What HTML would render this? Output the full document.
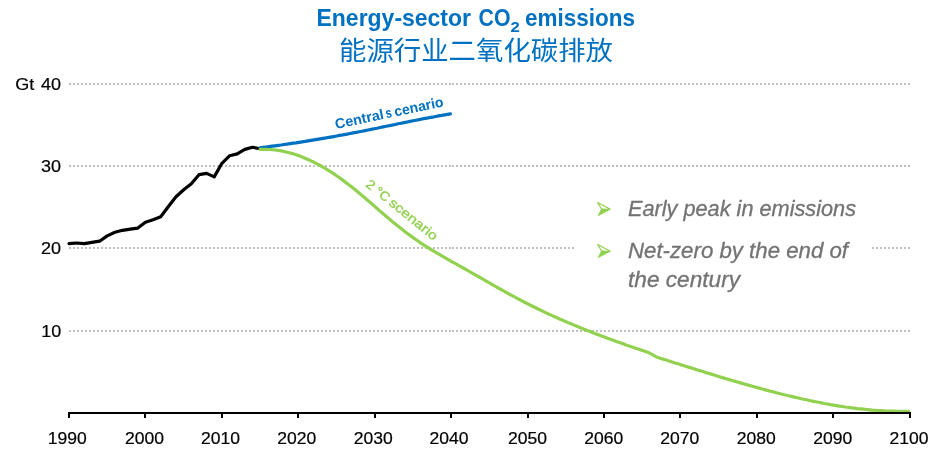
<!DOCTYPE html>
<html>
<head>
<meta charset="utf-8">
<style>
html,body{margin:0;padding:0;background:#fff;width:944px;height:459px;overflow:hidden;}
svg{display:block;}
.ax{font-family:"Liberation Sans",sans-serif;font-size:16.5px;fill:#000;stroke:#000;stroke-width:0.2px;}
.ttl{font-family:"Liberation Sans",sans-serif;font-weight:bold;fill:#0070C0;}
.cn{font-family:"Liberation Sans","Noto Sans CJK SC",sans-serif;fill:#0070C0;}
.it{font-family:"Liberation Sans",sans-serif;font-style:italic;fill:#737373;stroke:#737373;stroke-width:0.3px;font-size:21.5px;}
</style>
</head>
<body>
<svg width="944" height="459" viewBox="0 0 944 459">
<rect width="944" height="459" fill="#fff"/>
<g stroke="#BFBFBF" stroke-width="2" stroke-dasharray="2 2" shape-rendering="crispEdges">
<line x1="69" y1="84" x2="451" y2="84"/><line x1="452" y1="84" x2="911" y2="84"/>
<line x1="69" y1="166" x2="451" y2="166"/><line x1="452" y1="166" x2="911" y2="166"/>
<line x1="69" y1="248" x2="451" y2="248"/><line x1="452" y1="248" x2="911" y2="248"/>
<line x1="69" y1="331" x2="451" y2="331"/><line x1="452" y1="331" x2="911" y2="331"/>
</g>
<rect x="575" y="190" width="295" height="110" fill="#fff"/>
<g class="ax" text-anchor="end">
<text x="61" y="90" textLength="20" lengthAdjust="spacingAndGlyphs">40</text>
<text x="61" y="172" textLength="20" lengthAdjust="spacingAndGlyphs">30</text>
<text x="61" y="254" textLength="20" lengthAdjust="spacingAndGlyphs">20</text>
<text x="61.3" y="337" textLength="20" lengthAdjust="spacingAndGlyphs">10</text>
</g>
<text class="ax" x="15.2" y="90" textLength="19" lengthAdjust="spacingAndGlyphs">Gt</text>
<g class="ax" text-anchor="middle">
<text x="67.3" y="444" textLength="39" lengthAdjust="spacingAndGlyphs">1990</text>
<text x="144.4" y="444" textLength="39" lengthAdjust="spacingAndGlyphs">2000</text>
<text x="220.4" y="444" textLength="39" lengthAdjust="spacingAndGlyphs">2010</text>
<text x="296.8" y="444" textLength="39" lengthAdjust="spacingAndGlyphs">2020</text>
<text x="373.2" y="444" textLength="39" lengthAdjust="spacingAndGlyphs">2030</text>
<text x="449.1" y="444" textLength="39" lengthAdjust="spacingAndGlyphs">2040</text>
<text x="527.6" y="444" textLength="39" lengthAdjust="spacingAndGlyphs">2050</text>
<text x="603.7" y="444" textLength="39" lengthAdjust="spacingAndGlyphs">2060</text>
<text x="679.7" y="444" textLength="39" lengthAdjust="spacingAndGlyphs">2070</text>
<text x="756.2" y="444" textLength="39" lengthAdjust="spacingAndGlyphs">2080</text>
<text x="832.8" y="444" textLength="39" lengthAdjust="spacingAndGlyphs">2090</text>
<text x="909.1" y="444" textLength="39" lengthAdjust="spacingAndGlyphs">2100</text>
</g>
<g fill="none" stroke-width="3.2" stroke-linejoin="round" stroke-linecap="round">
<polyline stroke="#000" points="69.0,243.6 76.6,243.0 84.3,243.7 91.9,242.4 99.6,241.2 107.2,235.9 114.9,232.3 122.5,230.3 130.2,229.2 137.8,228.1 145.4,222.2 153.1,219.8 160.7,216.8 168.4,206.5 176.0,196.8 183.7,189.8 191.3,183.8 199.0,174.7 206.6,173.4 214.2,176.9 221.9,163.3 229.5,155.8 237.2,153.9 244.8,149.4 252.5,147.3 260.1,148.7"/>
<polyline stroke="#0070C0" points="260.1,147.8 263.1,147.4 266.1,147.0 269.1,146.6 272.1,146.2 275.1,145.8 278.1,145.4 281.1,145.0 284.1,144.5 287.1,144.1 290.1,143.7 293.1,143.2 296.1,142.8 299.1,142.3 302.1,141.8 305.1,141.4 308.1,140.9 311.1,140.4 314.1,139.9 317.1,139.4 320.1,138.9 323.1,138.4 326.1,137.9 329.1,137.3 332.1,136.8 335.1,136.3 338.1,135.7 341.1,135.2 344.1,134.6 347.1,134.1 350.1,133.5 353.1,132.9 356.1,132.4 359.1,131.8 362.1,131.2 365.1,130.6 368.1,130.0 371.1,129.4 374.1,128.8 377.1,128.2 380.1,127.5 383.1,126.9 386.1,126.3 389.1,125.7 392.1,125.1 395.1,124.5 398.1,123.8 401.1,123.2 404.1,122.6 407.1,122.0 410.1,121.4 413.1,120.8 416.1,120.2 419.1,119.6 422.1,119.0 425.1,118.4 428.1,117.9 431.1,117.3 434.1,116.8 437.1,116.2 440.1,115.7 443.1,115.1 446.1,114.6 449.1,114.1 450.4,113.9"/>
<polyline stroke="#92D050" points="260.1,149.4 263.1,149.3 266.1,149.3 269.1,149.5 272.1,149.7 275.1,150.0 278.1,150.4 281.1,150.9 284.1,151.5 287.1,152.2 290.1,153.0 293.1,153.8 296.1,154.8 299.1,155.8 302.1,157.0 305.1,158.2 308.1,159.5 311.1,160.9 314.1,162.3 317.1,163.9 320.1,165.5 323.1,167.2 326.1,168.9 329.1,170.8 332.1,172.7 335.1,174.7 338.1,176.8 341.1,178.9 344.1,181.1 347.1,183.4 350.1,185.7 353.1,188.1 356.1,190.5 359.1,193.0 362.1,195.6 365.1,198.1 368.1,200.7 371.1,203.3 374.1,205.9 377.1,208.5 380.1,211.1 383.1,213.7 386.1,216.3 389.1,218.8 392.1,221.4 395.1,223.8 398.1,226.2 401.1,228.6 404.1,230.9 407.1,233.2 410.1,235.4 413.1,237.6 416.1,239.7 419.1,241.8 422.1,243.8 425.1,245.8 428.1,247.7 431.1,249.6 434.1,251.4 437.1,253.2 440.1,254.9 443.1,256.7 446.1,258.4 449.1,260.1 452.1,261.8 455.1,263.4 458.1,265.1 461.1,266.8 464.1,268.5 467.1,270.2 470.1,271.9 473.1,273.6 476.1,275.3 479.1,277.0 482.1,278.7 485.1,280.5 488.1,282.2 491.1,283.9 494.1,285.6 497.1,287.3 500.1,289.0 503.1,290.6 506.1,292.3 509.1,294.0 512.1,295.6 515.1,297.2 518.1,298.8 521.1,300.4 524.1,302.0 527.1,303.5 530.1,305.0 533.1,306.5 536.1,308.0 539.1,309.5 542.1,310.9 545.1,312.4 548.1,313.8 551.1,315.1 554.1,316.5 557.1,317.8 560.1,319.2 563.1,320.5 566.1,321.8 569.1,323.1 572.1,324.3 575.1,325.6 578.1,326.8 581.1,328.0 584.1,329.2 587.1,330.4 590.1,331.6 593.1,332.8 596.1,333.9 599.1,335.1 602.1,336.2 605.1,337.3 608.1,338.4 611.1,339.5 614.1,340.6 617.1,341.7 620.1,342.7 623.1,343.8 626.1,344.9 629.1,345.9 632.1,346.9 635.1,348.0 638.1,349.0 641.1,350.0 644.1,351.0 647.1,352.0 647.7,352.2 656.4,356.9 659.4,357.9 662.4,358.9 665.4,359.8 668.4,360.8 671.4,361.7 674.4,362.7 677.4,363.6 680.4,364.6 683.4,365.5 686.4,366.5 689.4,367.4 692.4,368.3 695.4,369.3 698.4,370.2 701.4,371.1 704.4,372.1 707.4,373.0 710.4,373.9 713.4,374.8 716.4,375.8 719.4,376.7 722.4,377.6 725.4,378.5 728.4,379.4 731.4,380.2 734.4,381.1 737.4,382.0 740.4,382.9 743.4,383.7 746.4,384.6 749.4,385.4 752.4,386.3 755.4,387.1 758.4,387.9 761.4,388.8 764.4,389.6 767.4,390.4 770.4,391.2 773.4,391.9 776.4,392.7 779.4,393.5 782.4,394.2 785.4,395.0 788.4,395.7 791.4,396.4 794.4,397.1 797.4,397.8 800.4,398.5 803.4,399.2 806.4,399.8 809.4,400.5 812.4,401.1 815.4,401.7 818.4,402.3 821.4,402.9 824.4,403.5 827.4,404.0 830.4,404.6 833.4,405.1 836.4,405.6 839.4,406.1 842.4,406.5 845.4,407.0 848.4,407.4 851.4,407.8 854.4,408.2 857.4,408.6 860.4,408.9 863.4,409.2 866.4,409.5 869.4,409.8 872.4,410.1 875.4,410.3 878.4,410.5 881.4,410.7 884.4,410.9 887.4,411.0 890.4,411.1 893.4,411.2 896.4,411.3 899.4,411.3 902.4,411.4 905.4,411.3 908.4,411.3 908.8,411.3"/>
</g>
<g fill="#000" shape-rendering="crispEdges">
<rect x="68" y="412" width="843" height="2"/>
<rect x="68" y="412" width="2" height="6"/>
<rect x="144" y="412" width="2" height="6"/>
<rect x="221" y="412" width="2" height="6"/>
<rect x="297" y="412" width="2" height="6"/>
<rect x="374" y="412" width="2" height="6"/>
<rect x="450" y="412" width="2" height="6"/>
<rect x="527" y="412" width="2" height="6"/>
<rect x="603" y="412" width="2" height="6"/>
<rect x="679" y="412" width="2" height="6"/>
<rect x="756" y="412" width="2" height="6"/>
<rect x="832" y="412" width="2" height="6"/>
<rect x="909" y="412" width="2" height="6"/>
</g>
<g transform="translate(336,128.9) rotate(-11.8)" font-family="Liberation Sans,sans-serif" font-weight="bold" font-size="14.2" fill="#0070C0">
<text x="0" y="0" textLength="49.5" lengthAdjust="spacingAndGlyphs">Central</text>
<text x="51.6" y="0" textLength="6.2" lengthAdjust="spacingAndGlyphs">s</text>
<text x="60.6" y="0" textLength="49.8" lengthAdjust="spacingAndGlyphs">cenario</text>
</g>
<g transform="translate(365.5,186) rotate(39)" font-family="Liberation Sans,sans-serif" font-size="13" fill="#92D050" stroke="#92D050" stroke-width="0.35">
<text x="-0.6" y="0" textLength="7.7" lengthAdjust="spacingAndGlyphs">2</text>
<text x="10.6" y="0" textLength="15.5" lengthAdjust="spacingAndGlyphs">°C</text>
<text x="29" y="0" textLength="58.5" lengthAdjust="spacingAndGlyphs">scenario</text>
</g>
<text class="ttl" x="316.5" y="26" font-size="24.5" textLength="154.5" lengthAdjust="spacingAndGlyphs">Energy-sector</text>
<text class="ttl" x="478.5" y="26" font-size="24.5" textLength="32" lengthAdjust="spacingAndGlyphs">CO</text>
<text class="ttl" x="510.6" y="32" font-size="15.5" textLength="9.3" lengthAdjust="spacingAndGlyphs">2</text>
<text class="ttl" x="525" y="26" font-size="24.5" textLength="110" lengthAdjust="spacingAndGlyphs">emissions</text>
<text class="cn" x="339" y="59.6" font-size="26.5" textLength="274" lengthAdjust="spacingAndGlyphs">能源行业二氧化碳排放</text>
<g>
<path d="M597.6,202.4 L610.4,209.3 L601.5,209 Z" fill="none" stroke="#92D050" stroke-width="1.1" stroke-linejoin="round"/>
<path d="M601.2,208.6 L610.8,209.4 L597.4,216.4 Z" fill="#92D050"/>
<path d="M597.6,244.4 L610.4,251.3 L601.5,251 Z" fill="none" stroke="#92D050" stroke-width="1.1" stroke-linejoin="round"/>
<path d="M601.2,250.6 L610.8,251.4 L597.4,258.4 Z" fill="#92D050"/>
</g>
<text class="it" x="628" y="215.8" textLength="228" lengthAdjust="spacingAndGlyphs">Early peak in emissions</text>
<text class="it" x="628" y="258.2" textLength="220" lengthAdjust="spacingAndGlyphs">Net-zero by the end of</text>
<text class="it" x="628" y="287" textLength="112" lengthAdjust="spacingAndGlyphs">the century</text>
</svg>
</body>
</html>
